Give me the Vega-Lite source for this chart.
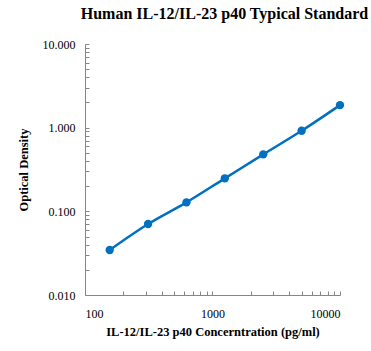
{
  "$schema": "https://vega.github.io/schema/vega-lite/v6.json",
  "autosize": "none",
  "width": 255,
  "height": 251,
  "padding": {"left": 85, "top": 44, "right": 31, "bottom": 56},
  "background": "white",
  "title": {
    "text": "Human IL-12/IL-23 p40 Typical Standard",
    "font": "Liberation Serif",
    "fontSize": 16,
    "fontWeight": "bold",
    "color": "black",
    "anchor": "middle",
    "dx": 12,
    "offset": 16
  },
  "config": {
    "view": {"stroke": null},
    "axis": {
      "labelFont": "Liberation Serif",
      "titleFont": "Liberation Serif",
      "labelFontSize": 12,
      "titleFontSize": 12.5,
      "titleFontWeight": "bold",
      "labelColor": "black",
      "titleColor": "black",
      "domainColor": "#868686",
      "tickColor": "#868686",
      "grid": false,
      "labelOverlap": false
    }
  },
  "data": {
    "values": [
      {"conc": 156.25, "od": 0.0345},
      {"conc": 312.5, "od": 0.0705},
      {"conc": 625, "od": 0.128},
      {"conc": 1250, "od": 0.248},
      {"conc": 2500, "od": 0.48},
      {"conc": 5000, "od": 0.918},
      {"conc": 10000, "od": 1.86}
    ]
  },
  "encoding": {
    "x": {
      "field": "conc",
      "type": "quantitative",
      "scale": {"type": "log", "domain": [100, 10000], "nice": false},
      "axis": {
        "title": "IL-12/IL-23 p40 Concerntration (pg/ml)",
        "values": [100, 200, 300, 400, 500, 600, 700, 800, 900, 1000, 2000, 3000, 4000, 5000, 6000, 7000, 8000, 9000, 10000],
        "labelExpr": "abs(log(datum.value)/LN10 - round(log(datum.value)/LN10)) < 1e-6 ? format(datum.value, 'd') : ''",
        "tickSize": -4,
        "labelPadding": 17,
        "titlePadding": 6
      }
    },
    "y": {
      "field": "od",
      "type": "quantitative",
      "scale": {"type": "log", "domain": [0.01, 10], "nice": false},
      "axis": {
        "title": "Optical Density",
        "values": [0.01, 0.02, 0.03, 0.04, 0.05, 0.06, 0.07, 0.08, 0.09, 0.1, 0.2, 0.3, 0.4, 0.5, 0.6, 0.7, 0.8, 0.9, 1, 2, 3, 4, 5, 6, 7, 8, 9, 10],
        "labelExpr": "abs(log(datum.value)/LN10 - round(log(datum.value)/LN10)) < 1e-6 ? format(datum.value, '.3f') : ''",
        "tickSize": -4,
        "labelPadding": 14,
        "titlePadding": 12
      }
    }
  },
  "layer": [
    {"mark": {"type": "line", "color": "#0070C0", "strokeWidth": 2.5, "interpolate": "monotone"}},
    {"mark": {"type": "point", "filled": true, "opacity": 1, "color": "#0070C0", "size": 70}}
  ]
}
